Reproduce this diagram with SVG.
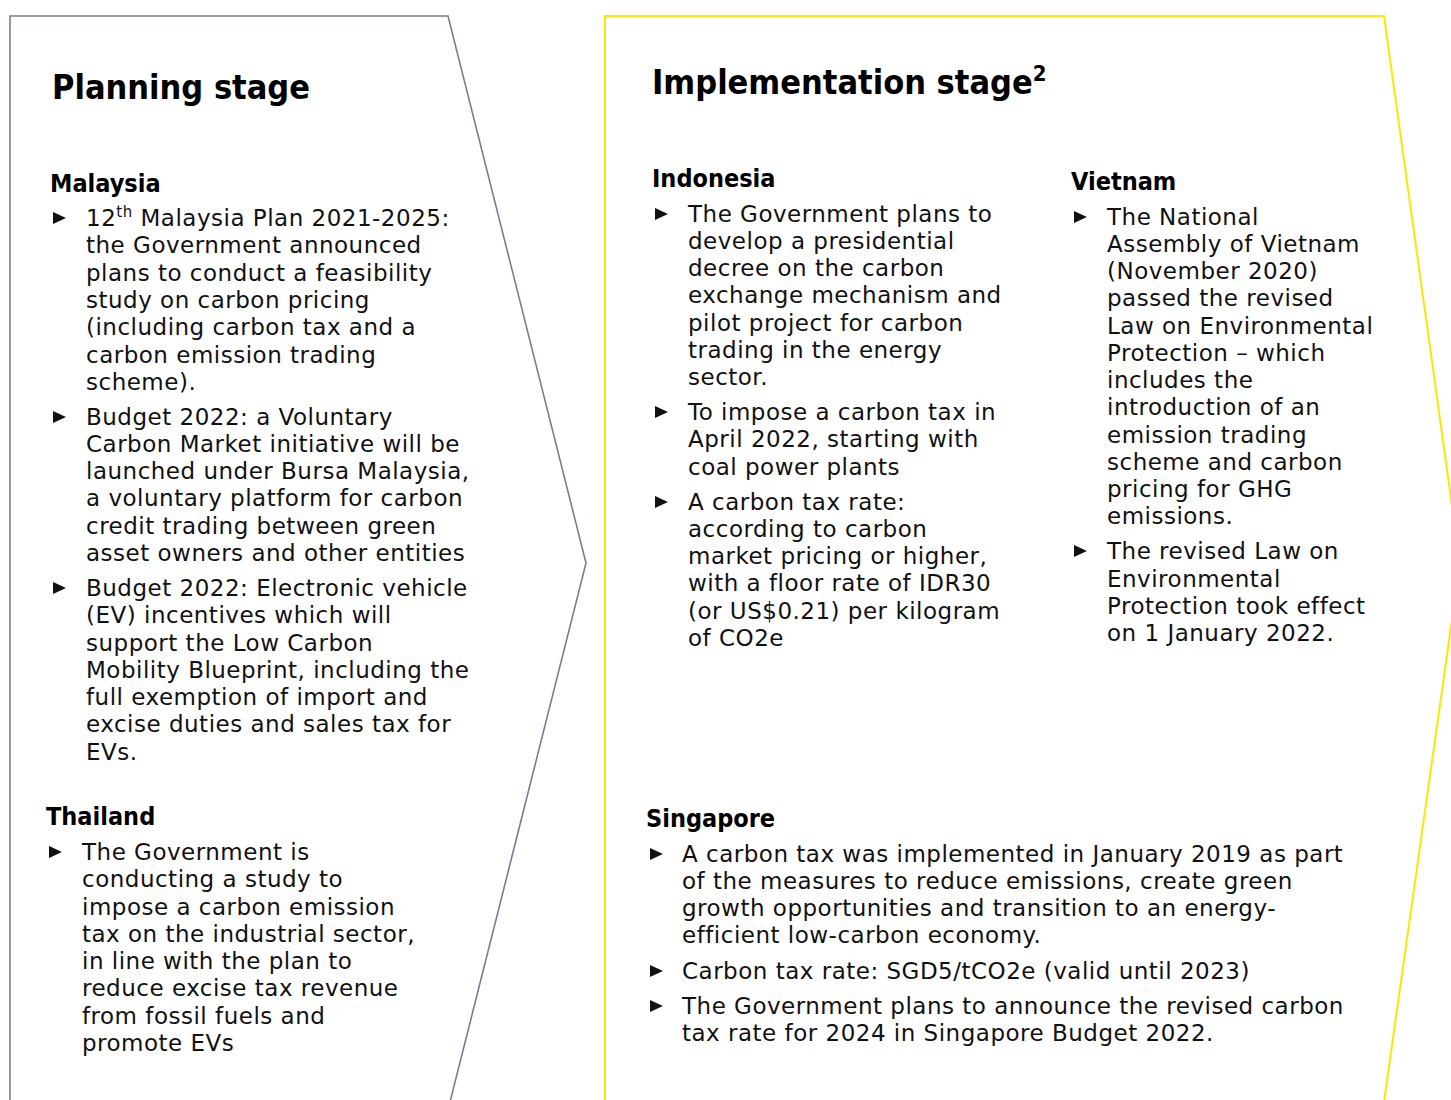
<svg xmlns="http://www.w3.org/2000/svg" xmlns:xlink="http://www.w3.org/1999/xlink" width="1451" height="1100" viewBox="0 0 1451 1100">
<style>
.b{font-family:"DejaVu Sans","Liberation Sans",sans-serif;font-size:23px;letter-spacing:0.5px;fill:#111}
.h1{font-family:"DejaVu Sans Condensed","DejaVu Sans",sans-serif;font-weight:bold;font-size:34px;fill:#000}
.h2{font-family:"DejaVu Sans Condensed","DejaVu Sans",sans-serif;font-weight:bold;font-size:25px;fill:#000}
.sup{font-size:15px}
.grey{fill:#fff;stroke:#7b7b96;stroke-width:1.6}
.yel{fill:#fff;stroke:#ffe600;stroke-width:2}
</style>
<defs>
<path id="tri" d="M0,-6 L13,0 L0,6 Z" fill="#111"/>
</defs>
<rect width="1451" height="1100" fill="#fff"/>
<g id="planning-shape"><path class="grey" d="M10,1102 L10,16 L448,16 L586,563 L450,1102"/></g>
<g id="implementation-shape"><path class="yel" d="M605,1102 L605,16 L1384,16 L1460,563 L1384,1102"/></g>

<g id="planning">
<text class="h1" x="52" y="99">Planning stage</text>
<g id="malaysia">
<text class="h2" x="50" y="192">Malaysia</text>
<use xlink:href="#tri" x="53" y="218"/>
<text class="b" x="86" y="226">12<tspan class="sup" dy="-9">th</tspan><tspan dy="9"> Malaysia Plan 2021-2025:</tspan></text>
<text class="b" x="86" y="253">the Government announced</text>
<text class="b" x="86" y="281">plans to conduct a feasibility</text>
<text class="b" x="86" y="308">study on carbon pricing</text>
<text class="b" x="86" y="335">(including carbon tax and a</text>
<text class="b" x="86" y="363">carbon emission trading</text>
<text class="b" x="86" y="390">scheme).</text>
<use xlink:href="#tri" x="53" y="417"/>
<text class="b" x="86" y="425">Budget 2022: a Voluntary</text>
<text class="b" x="86" y="452">Carbon Market initiative will be</text>
<text class="b" x="86" y="479">launched under Bursa Malaysia,</text>
<text class="b" x="86" y="506">a voluntary platform for carbon</text>
<text class="b" x="86" y="534">credit trading between green</text>
<text class="b" x="86" y="561">asset owners and other entities</text>
<use xlink:href="#tri" x="53" y="588"/>
<text class="b" x="86" y="596">Budget 2022: Electronic vehicle</text>
<text class="b" x="86" y="623">(EV) incentives which will</text>
<text class="b" x="86" y="651">support the Low Carbon</text>
<text class="b" x="86" y="678">Mobility Blueprint, including the</text>
<text class="b" x="86" y="705">full exemption of import and</text>
<text class="b" x="86" y="732">excise duties and sales tax for</text>
<text class="b" x="86" y="760">EVs.</text>
</g>
<g id="thailand">
<text class="h2" x="46" y="825">Thailand</text>
<use xlink:href="#tri" x="49" y="852"/>
<text class="b" x="82" y="860">The Government is</text>
<text class="b" x="82" y="887">conducting a study to</text>
<text class="b" x="82" y="915">impose a carbon emission</text>
<text class="b" x="82" y="942">tax on the industrial sector,</text>
<text class="b" x="82" y="969">in line with the plan to</text>
<text class="b" x="82" y="996">reduce excise tax revenue</text>
<text class="b" x="82" y="1024">from fossil fuels and</text>
<text class="b" x="82" y="1051">promote EVs</text>
</g>
</g>

<g id="implementation">
<text class="h1" x="652" y="94">Implementation stage<tspan font-size="22" dy="-13">2</tspan></text>
<g id="indonesia">
<text class="h2" x="652" y="187">Indonesia</text>
<use xlink:href="#tri" x="655" y="214"/>
<text class="b" x="688" y="222">The Government plans to</text>
<text class="b" x="688" y="249">develop a presidential</text>
<text class="b" x="688" y="276">decree on the carbon</text>
<text class="b" x="688" y="303">exchange mechanism and</text>
<text class="b" x="688" y="331">pilot project for carbon</text>
<text class="b" x="688" y="358">trading in the energy</text>
<text class="b" x="688" y="385">sector.</text>
<use xlink:href="#tri" x="655" y="412"/>
<text class="b" x="688" y="420">To impose a carbon tax in</text>
<text class="b" x="688" y="447">April 2022, starting with</text>
<text class="b" x="688" y="475">coal power plants</text>
<use xlink:href="#tri" x="655" y="502"/>
<text class="b" x="688" y="510">A carbon tax rate:</text>
<text class="b" x="688" y="537">according to carbon</text>
<text class="b" x="688" y="564">market pricing or higher,</text>
<text class="b" x="688" y="591">with a floor rate of IDR30</text>
<text class="b" x="688" y="619">(or US$0.21) per kilogram</text>
<text class="b" x="688" y="646">of CO2e</text>
</g>
<g id="vietnam">
<text class="h2" x="1071" y="190">Vietnam</text>
<use xlink:href="#tri" x="1074" y="217"/>
<text class="b" x="1107" y="225">The National</text>
<text class="b" x="1107" y="252">Assembly of Vietnam</text>
<text class="b" x="1107" y="279">(November 2020)</text>
<text class="b" x="1107" y="306">passed the revised</text>
<text class="b" x="1107" y="334">Law on Environmental</text>
<text class="b" x="1107" y="361">Protection – which</text>
<text class="b" x="1107" y="388">includes the</text>
<text class="b" x="1107" y="415">introduction of an</text>
<text class="b" x="1107" y="443">emission trading</text>
<text class="b" x="1107" y="470">scheme and carbon</text>
<text class="b" x="1107" y="497">pricing for GHG</text>
<text class="b" x="1107" y="524">emissions.</text>
<use xlink:href="#tri" x="1074" y="551"/>
<text class="b" x="1107" y="559">The revised Law on</text>
<text class="b" x="1107" y="587">Environmental</text>
<text class="b" x="1107" y="614">Protection took effect</text>
<text class="b" x="1107" y="641">on 1 January 2022.</text>
</g>
<g id="singapore">
<text class="h2" x="646" y="827">Singapore</text>
<use xlink:href="#tri" x="650" y="854"/>
<text class="b" x="682" y="862">A carbon tax was implemented in January 2019 as part</text>
<text class="b" x="682" y="889">of the measures to reduce emissions, create green</text>
<text class="b" x="682" y="916">growth opportunities and transition to an energy-</text>
<text class="b" x="682" y="943">efficient low-carbon economy.</text>
<use xlink:href="#tri" x="650" y="971"/>
<text class="b" x="682" y="979">Carbon tax rate: SGD5/tCO2e (valid until 2023)</text>
<use xlink:href="#tri" x="650" y="1006"/>
<text class="b" x="682" y="1014">The Government plans to announce the revised carbon</text>
<text class="b" x="682" y="1041">tax rate for 2024 in Singapore Budget 2022.</text>
</g>
</g>
</svg>
